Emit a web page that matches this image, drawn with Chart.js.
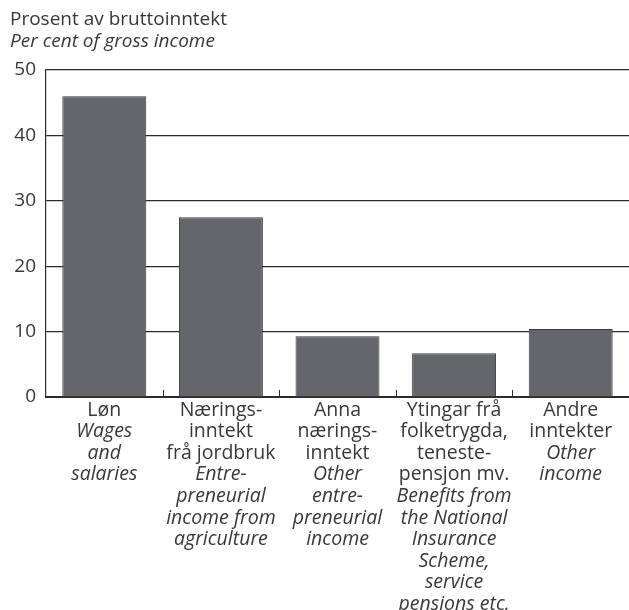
<!DOCTYPE html>
<html>
<head>
<meta charset="utf-8">
<script src="https://cdn.jsdelivr.net/npm/chart.js@4.4.0/dist/chart.umd.min.js"></script>
<style>
  html, body { margin: 0; padding: 0; background: #fff; }
  #wrap { width: 629px; height: 610px; position: relative; }
</style>
</head>
<body>
<div id="wrap"><canvas id="myChart"></canvas></div>
<script>
const norskLines = [
  ["Løn"],
  ["Nærings-", "inntekt", "frå jordbruk"],
  ["Anna", "nærings-", "inntekt"],
  ["Ytingar frå", "folketrygda,", "teneste-", "pensjon mv."],
  ["Andre", "inntekter"]
];
const englishLines = [
  ["Wages", "and", "salaries"],
  ["Entre-", "preneurial", "income from", "agriculture"],
  ["Other", "entre-", "preneurial", "income"],
  ["Benefits from", "the National", "Insurance", "Scheme,", "service", "pensions etc."],
  ["Other", "income"]
];
const shares = [46, 27.5, 9.3, 6.7, 10.4];
const yTicks = [0, 10, 20, 30, 40, 50];
const titleNo = "Prosent av bruttoinntekt";
const titleEn = "Per cent of gross income";

const textColor = "#383838";
const fontName = "'Open Sans', 'Noto Sans', sans-serif";

// titles, two-language category labels and the small inward ticks
const textPlugin = {
  id: "textPlugin",
  afterDraw(chart) {
    const ctx = chart.ctx;
    const x = chart.scales.x;
    const area = chart.chartArea;
    ctx.save();
    ctx.fillStyle = textColor;
    ctx.textBaseline = "middle";
    ctx.textAlign = "left";
    ctx.font = "19px " + fontName;
    ctx.fillText(titleNo, 10, 20);
    ctx.font = "italic 19px " + fontName;
    ctx.fillText(titleEn, 10, 42);

    ctx.textAlign = "center";
    norskLines.forEach((lines, i) => {
      const cx = x.getPixelForValue(i);
      let y = 410;
      ctx.font = "19.5px " + fontName;
      lines.forEach(l => { ctx.fillText(l, cx, y); y += 21.6; });
      ctx.font = "italic 19.5px " + fontName;
      englishLines[i].forEach(l => { ctx.fillText(l, cx, y); y += 21.6; });
    });

    ctx.strokeStyle = "#2b2b2b";
    ctx.lineWidth = 1;
    for (let i = 1; i < shares.length; i++) {
      const bx = Math.round((x.getPixelForValue(i - 1) + x.getPixelForValue(i)) / 2) + 0.5;
      ctx.beginPath();
      ctx.moveTo(bx, area.bottom - 7);
      ctx.lineTo(bx, area.bottom);
      ctx.stroke();
    }
    ctx.restore();
  }
};

new Chart("myChart", {
  type: "bar",
  data: {
    labels: norskLines.map(l => l.join(" ")),
    datasets: [{
      data: shares,
      backgroundColor: "#65666b",
      borderColor: "#3a3a3d",
      borderWidth: 1,
      borderSkipped: "bottom",
      categoryPercentage: 1,
      barPercentage: 0.72
    }]
  },
  options: {
    responsive: true,
    maintainAspectRatio: false,
    animation: false,
    layout: { padding: { top: 70, left: 0, right: 0, bottom: 0 } },
    plugins: {
      legend: { display: false },
      tooltip: { enabled: false }
    },
    scales: {
      x: {
        grid: { display: false },
        border: { display: true, color: "#2b2b2b", width: 2 },
        ticks: { display: false },
        afterFit(scale) { scale.height = 213; }
      },
      y: {
        min: 0,
        max: 50,
        afterBuildTicks(scale) { scale.ticks = yTicks.map(v => ({ value: v })); },
        grid: { color: "#2b2b2b", lineWidth: 1.2, drawTicks: false },
        border: { display: true, color: "#2b2b2b", width: 1.2 },
        ticks: {
          padding: 10,
          color: textColor,
          font: { family: fontName, size: 19 }
        },
        afterFit(scale) { scale.width = 46; }
      }
    }
  },
  plugins: [textPlugin]
});
</script>
</body>
</html>
